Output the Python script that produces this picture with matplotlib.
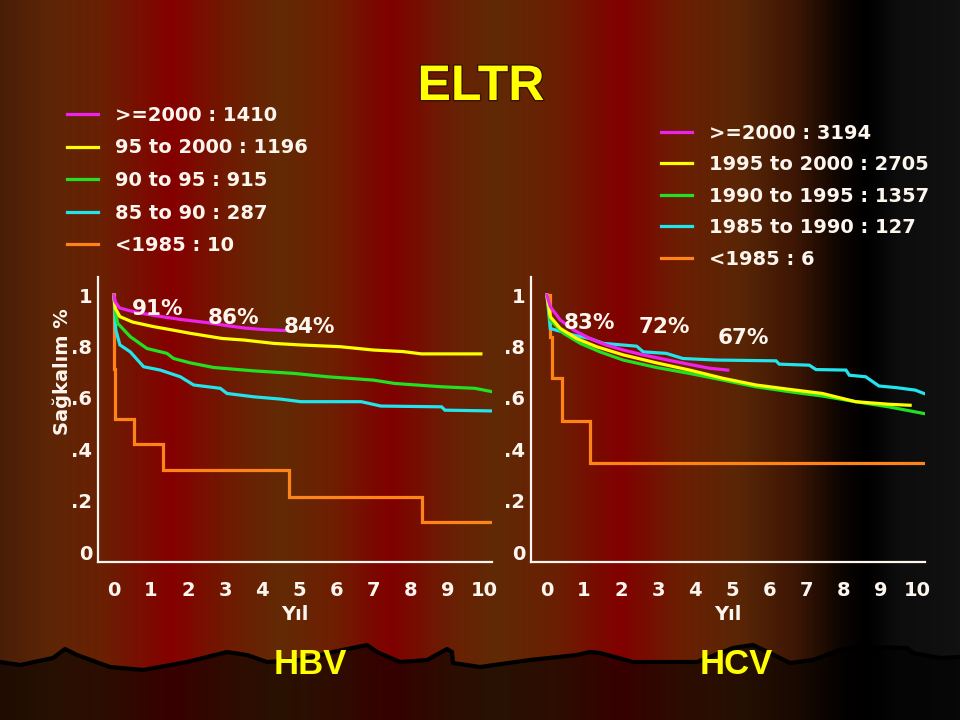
import numpy as np
import matplotlib.pyplot as plt
from matplotlib.colors import LinearSegmentedColormap
from matplotlib import patheffects

# --- HBV curves (years, survival) ---
hbv_2000_t = [0, 0.03, 0.15, 0.4, 0.7, 1.2, 1.8, 2.5, 3.0, 3.5, 4.0, 4.6]
hbv_2000_s = [1.0, 0.975, 0.95, 0.94, 0.93, 0.918, 0.905, 0.893, 0.882, 0.872, 0.866, 0.862]
hbv_95_t = [0, 0.03, 0.16, 0.5, 1.07, 1.5, 2.06, 2.92, 3.5, 4.3, 5.0, 6.1, 7.0, 7.8, 8.3, 9.9]
hbv_95_s = [1.0, 0.95, 0.916, 0.895, 0.877, 0.866, 0.851, 0.831, 0.825, 0.812, 0.806, 0.799, 0.786, 0.78, 0.771, 0.771]
hbv_90_t = [0, 0.03, 0.1, 0.44, 0.89, 1.43, 1.61, 2.06, 2.69, 3.77, 4.86, 5.76, 7.0, 7.57, 8.84, 9.74, 10.2]
hbv_90_s = [1.0, 0.95, 0.89, 0.838, 0.792, 0.773, 0.753, 0.736, 0.718, 0.705, 0.695, 0.682, 0.669, 0.656, 0.643, 0.637, 0.624]
hbv_85_t = [0, 0.02, 0.05, 0.16, 0.44, 0.8, 1.25, 1.79, 2.15, 2.87, 3.05, 3.77, 4.5, 5.04, 6.67, 7.2, 8.84, 8.93, 10.2]
hbv_85_s = [1.0, 0.95, 0.864, 0.806, 0.779, 0.721, 0.708, 0.682, 0.65, 0.637, 0.617, 0.604, 0.595, 0.585, 0.585, 0.568, 0.565, 0.552, 0.549]
hbv_old_t = [0, 0.01, 0.03, 0.53, 1.32, 4.72, 8.3, 10.2]
hbv_old_s = [1.0, 0.714, 0.517, 0.42, 0.319, 0.215, 0.118, 0.118]

# --- HCV curves ---
hcv_2000_t = [0, 0.09, 0.36, 0.72, 1.16, 1.61, 2.06, 2.6, 3.13, 3.85, 4.39, 4.88]
hcv_2000_s = [1.0, 0.955, 0.903, 0.864, 0.831, 0.805, 0.786, 0.767, 0.751, 0.73, 0.715, 0.708]
hcv_95_t = [0, 0.09, 0.36, 0.8, 1.34, 2.06, 2.96, 3.85, 4.75, 5.64, 6.54, 7.43, 8.33, 9.22, 9.8]
hcv_95_s = [1.0, 0.916, 0.87, 0.831, 0.799, 0.767, 0.736, 0.708, 0.676, 0.65, 0.633, 0.617, 0.585, 0.575, 0.571]
hcv_90_t = [0, 0.05, 0.09, 0.45, 0.9, 1.43, 2.06, 2.96, 3.85, 4.75, 5.64, 6.54, 7.43, 8.33, 9.22, 10.17]
hcv_90_s = [1.0, 0.95, 0.903, 0.851, 0.812, 0.779, 0.747, 0.718, 0.695, 0.669, 0.643, 0.624, 0.607, 0.585, 0.565, 0.539]
hcv_85_t = [0, 0.05, 0.09, 0.72, 1.16, 1.52, 2.42, 2.6, 3.22, 3.67, 4.57, 6.18, 6.27, 7.08, 7.26, 8.07, 8.16, 8.6, 8.96, 9.41, 9.94, 10.17]
hcv_85_s = [1.0, 0.93, 0.87, 0.844, 0.831, 0.812, 0.801, 0.779, 0.773, 0.753, 0.747, 0.744, 0.731, 0.727, 0.71, 0.708, 0.688, 0.682, 0.646, 0.64, 0.63, 0.617]
hcv_old_t = [0, 0.07, 0.13, 0.4, 1.15, 10.17]
hcv_old_s = [1.0, 0.838, 0.678, 0.511, 0.345, 0.345]

hbv_labels = ['>=2000 : 1410', '95 to 2000 : 1196', '90 to 95 : 915', '85 to 90 : 287', '<1985 : 10']
hcv_labels = ['>=2000 : 3194', '1995 to 2000 : 2705', '1990 to 1995 : 1357', '1985 to 1990 : 127', '<1985 : 6']

hbv_pct = ['91%', '86%', '84%']
hbv_pct_x = [1.19, 3.22, 5.27]
hbv_pct_y = [0.946, 0.911, 0.876]
hcv_pct = ['83%', '72%', '67%']
hcv_pct_x = [1.14, 3.18, 5.3]
hcv_pct_y = [0.891, 0.875, 0.833]

yticks = [0, 0.2, 0.4, 0.6, 0.8, 1]
ytick_labels = ['0', '.2', '.4', '.6', '.8', '1']
xticks = list(range(11))

colors = ['#ee22ee', '#ffff00', '#22e022', '#22e4ec', '#ff8418']
white = '#fdf6ee'

fig = plt.figure(figsize=(9.6, 7.2), dpi=100)

# curtain-like background
bg = fig.add_axes([0, 0, 1, 1], zorder=-5)
bg_x = [0, 50, 100, 170, 230, 280, 330, 390, 450, 495, 560, 620, 680, 740, 800, 845, 870, 900, 960]
bg_c = ['#4a1e06', '#5e2606', '#6a2003', '#850000', '#6e1c02', '#622a05', '#6e1f02', '#800000',
        '#6a1f03', '#602a06', '#6b1e02', '#820000', '#6b1e02', '#5a2606', '#3a1504', '#0a0402',
        '#000000', '#0d0d0d', '#111111']
cmap = LinearSegmentedColormap.from_list('curtain', list(zip(np.array(bg_x) / 960, bg_c)))
bg.imshow(np.linspace(0, 1, 960)[None, :], aspect='auto', cmap=cmap, extent=[0, 960, 720, 0])
wave_x = [0, 20, 53, 65, 77, 110, 143, 187, 227, 247, 267, 300, 333, 367, 377, 400, 427, 447, 452, 453,
          480, 530, 577, 590, 600, 633, 697, 733, 753, 770, 790, 813, 840, 863, 907, 913, 940, 960]
wave_y = [662, 665, 658, 649, 655, 667, 670, 662, 652, 655, 662, 660, 652, 645, 652, 662, 660, 649, 652, 663,
          667, 660, 655, 652, 653, 662, 662, 648, 645, 653, 663, 660, 650, 647, 648, 653, 658, 657]
bg.fill(wave_x + [960, 0], wave_y + [720, 720], color='black', alpha=0.58, lw=0)
bg.plot(wave_x, wave_y, color='black', lw=3)
bg.set_xlim(0, 960)
bg.set_ylim(720, 0)
bg.axis('off')


def panel(rect, curves, pct, pct_x, pct_y):
    ax = fig.add_axes(rect)
    ax.set_facecolor('none')
    lines = []
    # draw order: oldest first, newest on top
    for i in [4, 3, 2, 1, 0]:
        t, s = curves[i]
        ds = 'steps-post' if i == 4 else 'default'
        ln, = ax.plot(t, s, color=colors[i], lw=2.3, drawstyle=ds, solid_joinstyle='miter')
        lines.append((i, ln))
    lines = [ln for i, ln in sorted(lines, key=lambda p: p[0])]
    for lab, x, y in zip(pct, pct_x, pct_y):
        ax.text(x, y, lab, color=white, fontsize=15.5, fontweight='bold', ha='center', va='center')
    ax.set_xlim(-0.43, 10.2)
    ax.set_ylim(-0.039, 1.07)
    ax.set_xticks(xticks)
    ax.set_yticks(yticks)
    ax.set_yticklabels(ytick_labels)
    ax.tick_params(length=0, labelcolor=white, labelsize=14)
    ax.tick_params(axis='x', pad=14)
    ax.tick_params(axis='y', pad=4)
    for lab in ax.get_xticklabels() + ax.get_yticklabels():
        lab.set_fontweight('bold')
    for side in ['top', 'right']:
        ax.spines[side].set_visible(False)
    for side in ['left', 'bottom']:
        ax.spines[side].set_color(white)
        ax.spines[side].set_linewidth(1.6)
    ax.set_xlabel('Yıl', color=white, fontsize=14, fontweight='bold', labelpad=3)
    return ax, lines


ax1, hbv_lines = panel([0.1021, 0.2194, 0.4104, 0.3958],
                       [(hbv_2000_t, hbv_2000_s), (hbv_95_t, hbv_95_s), (hbv_90_t, hbv_90_s),
                        (hbv_85_t, hbv_85_s), (hbv_old_t, hbv_old_s)],
                       hbv_pct, hbv_pct_x, hbv_pct_y)
ax2, hcv_lines = panel([0.5531, 0.2194, 0.4104, 0.3958],
                       [(hcv_2000_t, hcv_2000_s), (hcv_95_t, hcv_95_s), (hcv_90_t, hcv_90_s),
                        (hcv_85_t, hcv_85_s), (hcv_old_t, hcv_old_s)],
                       hcv_pct, hcv_pct_x, hcv_pct_y)

leg_kw = dict(loc='upper left', frameon=False, bbox_transform=fig.transFigure, borderpad=0,
              borderaxespad=0, handlelength=1.6, handletextpad=0.87,
              prop={'size': 14, 'weight': 'bold'}, labelcolor=white)
ax1.legend(hbv_lines, hbv_labels, bbox_to_anchor=(0.0698, 0.853), labelspacing=0.7, **leg_kw)
ax2.legend(hcv_lines, hcv_labels, bbox_to_anchor=(0.6885, 0.828), labelspacing=0.64, **leg_kw)

fig.text(62 / 960, 1 - 372 / 720, 'Sağkalım %', rotation=90, color=white, fontsize=14,
         fontweight='bold', ha='center', va='center')

narrow = ['Liberation Sans Narrow', 'Liberation Sans', 'DejaVu Sans']
shadow = [patheffects.withStroke(linewidth=2, foreground='#3a1000')]
fig.text(481 / 960, 1 - 87 / 720, 'ELTR', color='#ffff00', fontsize=36, fontweight='bold',
         family=narrow, ha='center', va='center', path_effects=shadow)
fig.text(310 / 960, 1 - 664 / 720, 'HBV', color='#ffff00', fontsize=25, fontweight='bold',
         family=narrow, ha='center', va='center')
fig.text(736 / 960, 1 - 664 / 720, 'HCV', color='#ffff00', fontsize=25, fontweight='bold',
         family=narrow, ha='center', va='center')

fig.savefig('out.png', dpi=100)
